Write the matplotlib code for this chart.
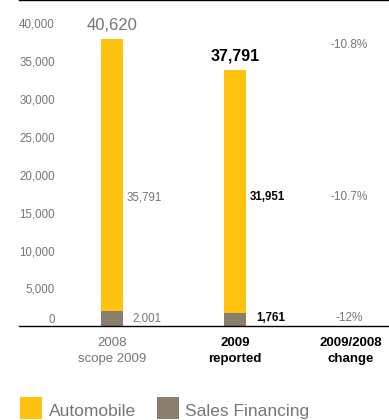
import matplotlib
matplotlib.use("Agg")
import matplotlib.pyplot as plt
from matplotlib.patches import Rectangle

plt.rcParams['font.family'] = ['Liberation Sans', 'DejaVu Sans']

# Revenues by activity (millions of euros)
columns = ["2008\nscope 2009", "2009\nreported", "2009/2008\nchange"]
automobile = [35791, 31951]
sales_financing = [2001, 1761]
auto_labels = ["35,791", "31,951"]
sf_labels = ["2,001", "1,761"]
total_labels = ["40,620", "37,791"]
change_labels = ["-10.8%", "-10.7%", "-12%"]
yticks = [0, 5000, 10000, 15000, 20000, 25000, 30000, 35000, 40000]

YELLOW = "#FFC20E"
TAUPE = "#8A7F6D"
GREY = "#767676"

W, H = 389, 420
fig = plt.figure(figsize=(W / 100, H / 100), dpi=100)
ax = fig.add_axes([19 / W, (H - 326) / H, (W - 19) / W, 326 / H])
ax.set_xlim(-0.756, 2.252)
ax.set_ylim(0, 43000)
ax.set_xticks([])
ax.set_yticks([])
for s in ("left", "right"):
    ax.spines[s].set_visible(False)
for s in ("top", "bottom"):
    ax.spines[s].set_linewidth(1.0)
    ax.spines[s].set_color("black")

xs = [0, 1]
bw = 0.179
ax.bar(xs, sales_financing, width=bw, color=TAUPE)
ax.bar(xs, automobile, width=bw, bottom=sales_financing, color=YELLOW)

# y-axis labels drawn inside the plot area
ytr = ax.get_yaxis_transform()
for v in yticks:
    ax.text(0.097, v + (800 if v == 0 else -250), f"{v:,}", transform=ytr,
            ha="right", va="center", fontsize=8.3, color=GREY)

# totals above the bars
bold = [False, True]
for x, a, s, lab, b in zip(xs, automobile, sales_financing, total_labels, bold):
    ax.annotate(lab, (x, a + s), xytext=(0, 5), textcoords="offset points",
                ha="center", va="bottom", fontsize=11.5 if b else 12,
                fontweight="bold" if b else "normal",
                color="black" if b else GREY)

# segment values
for x, a, s, la, ls, b in zip(xs, automobile, sales_financing, auto_labels, sf_labels, bold):
    kw = dict(ha="right", va="center", fontsize=8.3,
              fontweight="bold" if b else "normal",
              color="black" if b else GREY)
    ax.text(x + 0.405, 17000, la, **kw)
    ax.text(x + 0.405, 1000, ls, **kw)

# year-on-year change column
for y, lab in zip([37100, 17000, 1000], change_labels):
    ax.text(1.93, y, lab, ha="center", va="center", fontsize=8.5, color=GREY)

# category labels under the axis
xtr = ax.get_xaxis_transform()
for i, lab in enumerate(columns):
    b = i > 0
    ax.text([0, 1, 1.94][i], -0.035, lab, transform=xtr, ha="center", va="top",
            fontsize=9.5, linespacing=1.4,
            fontweight="bold" if b else "normal",
            color="black" if b else GREY)

# legend
def fig_px(x, y):
    return x / W, (H - y) / H

for x0, col, lab, tx in [(20, YELLOW, "Automobile", 49), (157, TAUPE, "Sales Financing", 185)]:
    fx, fy = fig_px(x0, 419)
    fig.add_artist(Rectangle((fx, fy), 22 / W, 22 / H, transform=fig.transFigure,
                             facecolor=col, edgecolor="none"))
    tx_, ty_ = fig_px(tx, 416)
    fig.text(tx_, ty_, lab, ha="left", va="baseline", fontsize=12.5, color=GREY)

fig.savefig("out.png", dpi=100)
